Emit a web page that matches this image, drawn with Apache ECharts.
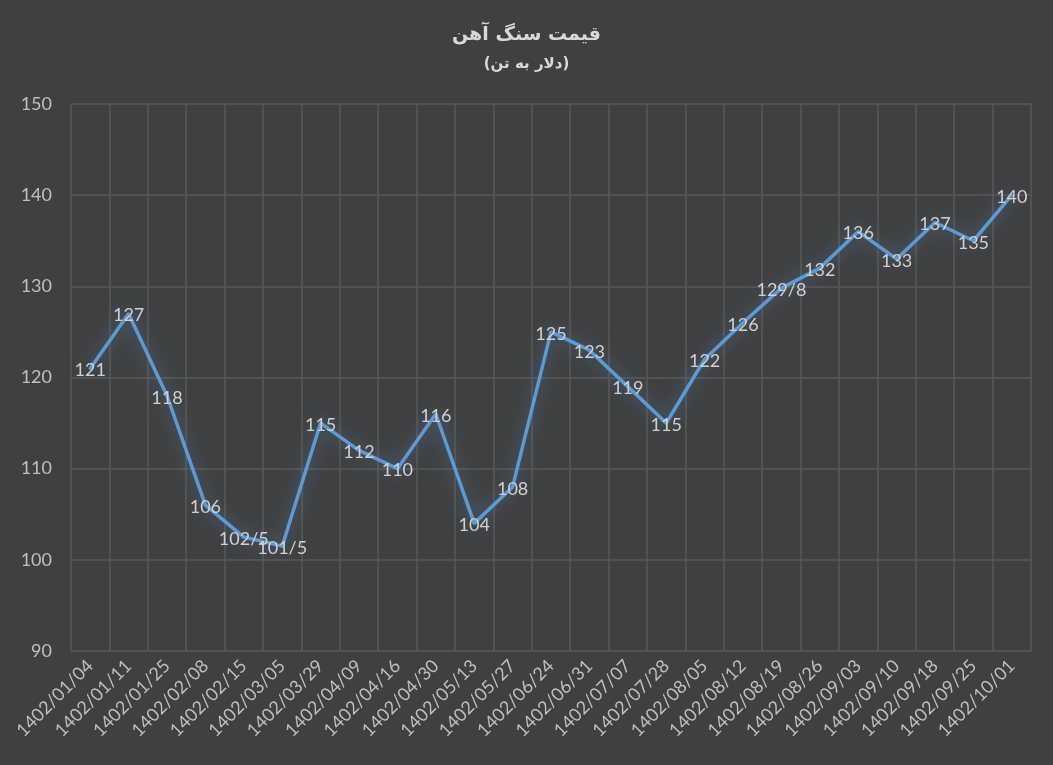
<!DOCTYPE html>
<html>
<head>
<meta charset="utf-8">
<script src="https://cdn.jsdelivr.net/npm/echarts@6/dist/echarts.min.js"></script>
<style>
html,body{margin:0;padding:0;background:#404040;}
#chart{width:1053px;height:765px;}
</style>
</head>
<body>
<div id="chart"></div>
<script>
const categories = ['1402/01/04','1402/01/11','1402/01/25','1402/02/08','1402/02/15','1402/03/05','1402/03/29','1402/04/09','1402/04/16','1402/04/30','1402/05/13','1402/05/27','1402/06/24','1402/06/31','1402/07/07','1402/07/28','1402/08/05','1402/08/12','1402/08/19','1402/08/26','1402/09/03','1402/09/10','1402/09/18','1402/09/25','1402/10/01'];
const prices = [121,127,118,106,102.5,101.5,115,112,110,116,104,108,125,123,119,115,122,126,129.8,132,136,133,137,135,140];
const yTicks = [90,100,110,120,130,140,150];

const chart = echarts.init(document.getElementById('chart'));
chart.setOption({
  backgroundColor:'#404040',
  animation:false,
  title:{
    text:'قیمت سنگ آهن',
    subtext:'(دلار به تن)',
    left:'center',
    top:21,
    itemGap:12,
    textStyle:{color:'#d9d9d9',fontSize:19,fontWeight:'bold',fontFamily:'DejaVu Sans'},
    subtextStyle:{color:'#d9d9d9',fontSize:15,fontWeight:'bold',fontFamily:'DejaVu Sans'}
  },
  grid:{left:71,right:22,top:104,bottom:114,containLabel:false},
  xAxis:{
    type:'category',
    data:categories,
    boundaryGap:true,
    axisLine:{show:false},
    axisTick:{show:false},
    axisLabel:{color:'#bfbfbf',fontSize:18,rotate:45,fontFamily:'Lato',margin:12,interval:0},
    splitLine:{show:true,interval:0,lineStyle:{color:'#595959',width:1.5}}
  },
  yAxis:{
    type:'value',
    min:yTicks[0],
    max:yTicks[yTicks.length-1],
    interval:10,
    axisLine:{show:false},
    axisTick:{show:false},
    axisLabel:{color:'#bfbfbf',fontSize:18,fontFamily:'Lato',margin:19},
    splitLine:{lineStyle:{color:'#595959',width:1.5}}
  },
  series:[{
    type:'line',
    data:prices,
    symbol:'circle',
    symbolSize:3,
    showSymbol:true,
    itemStyle:{color:'#5b9bd5'},
    lineStyle:{color:'#5b9bd5',width:3.5,shadowColor:'rgba(91,155,213,0.65)',shadowBlur:18},
    label:{
      show:true,
      position:'inside',
      offset:[0,2],
      color:'#d0d0d0',
      textBorderWidth:0,
      fontSize:18,
      fontFamily:'Lato',
      formatter:function(p){return String(p.value).replace('.', '/');}
    }
  }]
});
</script>
</body>
</html>
